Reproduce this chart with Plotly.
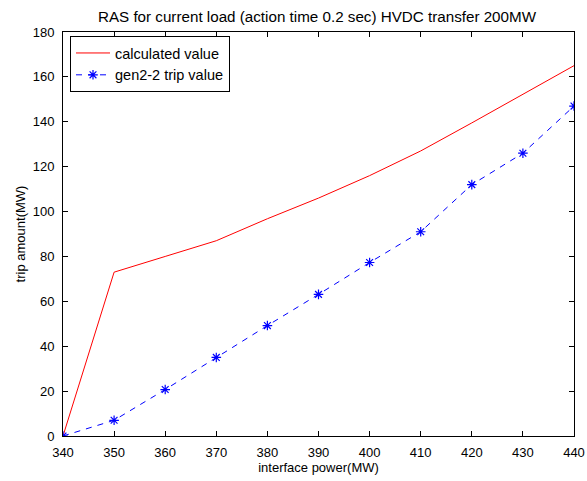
import plotly.graph_objects as go

power = [340, 350, 360, 370, 380, 390, 400, 410, 420, 430, 440]
calculated = [0, 73, 80, 87, 96.8, 106, 116, 127, 139.5, 152.2, 165]
gen_trip = [0, 7, 20.7, 35, 49.2, 63.1, 77.3, 91, 112, 126, 147]
x_ticks = [340, 350, 360, 370, 380, 390, 400, 410, 420, 430, 440]
y_ticks = [0, 20, 40, 60, 80, 100, 120, 140, 160, 180]

font = "Liberation Sans, Arial, Helvetica, sans-serif"

fig = go.Figure()
fig.add_trace(go.Scatter(x=power, y=calculated, mode="lines", name="calculated value",
                         line=dict(color="#ff0000", width=1)))
fig.add_trace(go.Scatter(x=power, y=gen_trip, mode="lines+markers", name="gen2-2 trip value",
                         line=dict(color="#0000ff", width=1, dash="6px,6px"),
                         marker=dict(symbol="asterisk-open", size=8, color="#0000ff",
                                     line=dict(color="#0000ff", width=1.2))))

axis_common = dict(showgrid=False, zeroline=False, showline=True, linecolor="black", linewidth=1,
                   mirror="ticks", ticks="inside", ticklen=5, tickcolor="black",
                   ticklabeloverflow="allow", automargin=False,
                   tickfont=dict(family=font, size=13, color="black"))

fig.update_layout(
    width=587, height=481,
    margin=dict(l=63, r=13, t=32, b=45),
    paper_bgcolor="white", plot_bgcolor="white",
    title=dict(text="RAS for current load (action time 0.2 sec) HVDC transfer 200MW",
               x=0.540, xanchor="center", y=0.965, yanchor="middle",
               font=dict(family=font, size=15.2, color="black")),
    xaxis=dict(range=[340, 440], tickvals=x_ticks, ticklabelstandoff=4,
               title=dict(text="interface power(MW)", font=dict(family=font, size=13, color="black"), standoff=2),
               **axis_common),
    yaxis=dict(range=[0, 180], tickvals=y_ticks, ticklabelstandoff=5,
               title=dict(text="trip amount(MW)", font=dict(family=font, size=13, color="black"), standoff=4),
               **axis_common),
    legend=dict(x=0.0137, y=0.99, xanchor="left", yanchor="top",
                bordercolor="black", borderwidth=1, bgcolor="white",
                font=dict(family=font, size=14.5, color="black"),
                tracegroupgap=0, itemwidth=34),
    showlegend=True,
)

# remove the browser's default 8px body margin so the figure fills the window exactly
fig.write_html("out.html", config={"displayModeBar": False},
               post_script="document.body.style.margin='0';document.body.style.overflow='hidden';")
